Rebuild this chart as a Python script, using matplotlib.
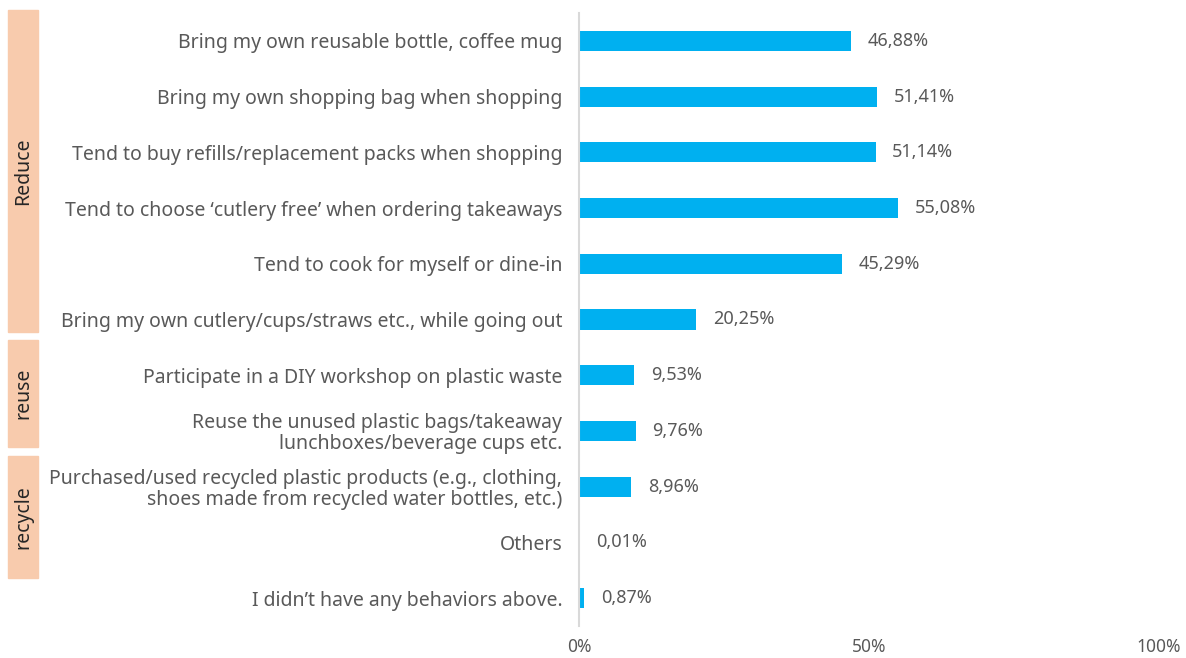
import matplotlib.pyplot as plt
from matplotlib.patches import Rectangle

plt.rcParams['font.family'] = ['Noto Sans', 'DejaVu Sans']

behaviours = [
    "Bring my own reusable bottle, coffee mug",
    "Bring my own shopping bag when shopping",
    "Tend to buy refills/replacement packs when shopping",
    "Tend to choose \u2018cutlery free\u2019 when ordering takeaways",
    "Tend to cook for myself or dine-in",
    "Bring my own cutlery/cups/straws etc., while going out",
    "Participate in a DIY workshop on plastic waste",
    "Reuse the unused plastic bags/takeaway\nlunchboxes/beverage cups etc.",
    "Purchased/used recycled plastic products (e.g., clothing,\nshoes made from recycled water bottles, etc.)",
    "Others",
    "I didn\u2019t have any behaviors above.",
]
shares = [46.88, 51.41, 51.14, 55.08, 45.29, 20.25, 9.53, 9.76, 8.96, 0.01, 0.87]

# group name, first row, last row
groups = [("Reduce", 0, 5), ("reuse", 6, 7), ("recycle", 8, 9)]
# vertical extent of each group band in figure pixels (top, bottom)
group_px = [(10, 332), (340, 447), (456, 578)]

xticks = [0, 50, 100]

W, H = 1186, 658
fig = plt.figure(figsize=(W / 100, H / 100), dpi=100)
ax = fig.add_axes([579 / W, 1 - 626 / H, 580 / W, 613 / H])

grey = "#595959"
ypos = list(range(len(behaviours)))
ax.barh(ypos, shares, height=0.36, color="#00B0F0")
ax.set_ylim(len(behaviours) - 0.5, -0.5)
ax.set_xlim(0, 100)

ax.set_yticks(ypos)
ax.set_yticklabels(behaviours, fontsize=14, color=grey, linespacing=1.05)
ax.set_xticks(xticks)
ax.set_xticklabels([f"{t}%" for t in xticks], fontsize=12.5, color=grey)
ax.tick_params(axis="both", length=0)
ax.tick_params(axis="y", pad=12)
ax.tick_params(axis="x", pad=9)

for s in ["top", "right", "bottom"]:
    ax.spines[s].set_visible(False)
ax.spines["left"].set_color("#D9D9D9")
ax.spines["left"].set_linewidth(1.5)

for y, v in zip(ypos, shares):
    ax.annotate(f"{v:.2f}%".replace(".", ","), (v, y), xytext=(12, 0),
                textcoords="offset points", va="center", ha="left",
                fontsize=13, color=grey)

for (name, _, _), (top, bot) in zip(groups, group_px):
    fig.patches.append(Rectangle((8 / W, 1 - bot / H), 30 / W, (bot - top) / H,
                                 transform=fig.transFigure, color="#F8CBAD",
                                 zorder=0))
    fig.text(23 / W, 1 - (top + bot) / 2 / H, name, rotation=90,
             ha="center", va="center", fontsize=14, color="#262626")

fig.savefig("out.png", dpi=100)
